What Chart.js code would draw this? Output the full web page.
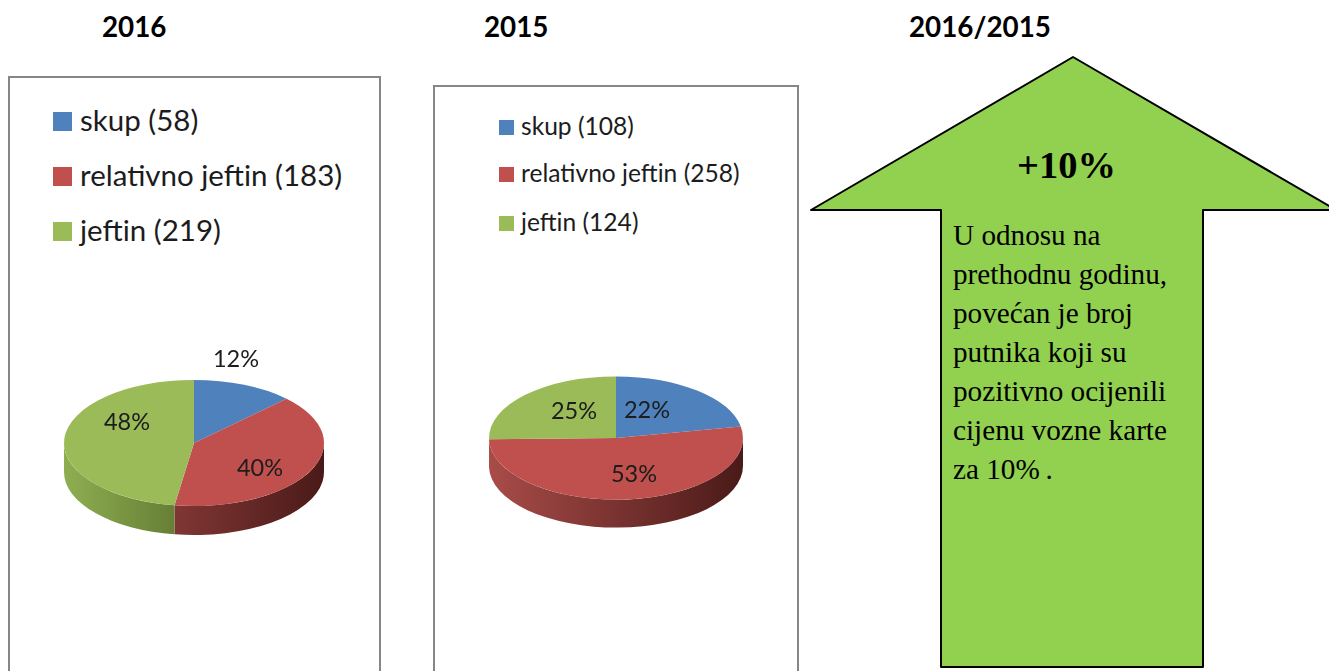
<!DOCTYPE html>
<html>
<head>
<meta charset="utf-8">
<script src="https://cdn.jsdelivr.net/npm/chart.js@4"></script>
<style>
html, body { margin: 0; padding: 0; background: #fff; overflow: hidden; }
#page { position: relative; width: 1329px; height: 671px; overflow: hidden; }
#page > * { position: absolute; }
.title { font: bold 27.8px Lato, sans-serif; color: #000; white-space: nowrap; top: 10px; }
.panel { border: 2px solid #868686; border-bottom: none; box-sizing: border-box; background: #fff; }
.lgItem { position: absolute; font-family: Lato, sans-serif; color: #1c1c1c; white-space: nowrap; }
.lgBox { position: absolute; }
#arrow { left: 0; top: 0; }
#plus { font: bold 38.5px "Liberation Serif", serif; left: 1017px; top: 143px; color: #000; }
#note { font: 29.2px/39px "Liberation Serif", serif; left: 953px; top: 216px; color: #000; white-space: pre; }
</style>
</head>
<body>
<div id="page">
  <div class="title" style="left:102px">2016</div>
  <div class="title" style="left:484px">2015</div>
  <div class="title" style="left:909px">2016/2015</div>
  <div class="panel" style="left:8px;top:76px;width:373px;height:600px"></div>
  <div class="panel" style="left:433px;top:85px;width:366px;height:600px"></div>
  <svg id="arrow" width="1329" height="671">
    <polygon points="1073,57 1336,210 1203,210 1203,667 941,667 941,210 811,210" fill="#92D050" stroke="#000" stroke-width="2" stroke-linejoin="round"></polygon>
  </svg>
  <div id="plus">+10%</div>
  <div id="note"></div>
  <canvas id="pie2016" width="320" height="320" style="left:34px;top:283px"></canvas>
  <canvas id="pie2015" width="320" height="320" style="left:456px;top:278px"></canvas>
</div>
<script>
const categories = ['skup', 'relativno jeftin', 'jeftin'];
const counts2016 = [58, 183, 219];
const counts2015 = [108, 258, 124];
const percent2016 = [12, 40, 48];
const percent2015 = [22, 53, 25];
const noteLines = ['U odnosu na', 'prethodnu godinu,', 'povećan je broj', 'putnika koji su', 'pozitivno ocijenili', 'cijenu vozne karte', 'za 10%\u2009.'];

const sliceColors = ['#4F81BD', '#C0504D', '#9BBB59'];
const rimColors = [['#4F81BD', '#2a4a70'], ['#a84c49', '#4a1a18'], ['#8fae51', '#2f4010']];

document.getElementById('note').textContent = noteLines.join('\n');

// squashes the flat pie into an ellipse and puts the rim under it
const tiltPlugin = {
  id: 'tilt',
  beforeDatasetsDraw(chart, args, opts) {
    const ctx = chart.ctx;
    const arcs = chart.getDatasetMeta(0).data;
    arcs.forEach((arc, i) => {
      const a0 = Math.max(arc.startAngle, 0);
      const a1 = Math.min(arc.endAngle, Math.PI);
      if (a1 <= a0) return;
      const rx = arc.outerRadius, ry = rx * opts.squash;
      const grad = ctx.createLinearGradient(arc.x - rx, 0, arc.x + rx, 0);
      grad.addColorStop(0, rimColors[i][0]);
      grad.addColorStop(1, rimColors[i][1]);
      ctx.beginPath();
      ctx.ellipse(arc.x, arc.y, rx, ry, 0, a0, a1);
      ctx.ellipse(arc.x, arc.y + opts.depth, rx, ry, 0, a1, a0, true);
      ctx.closePath();
      ctx.fillStyle = grad;
      ctx.fill();
    });
    const c = arcs[0];
    ctx.save();
    ctx.translate(c.x, c.y);
    ctx.scale(1, opts.squash);
    ctx.translate(-c.x, -c.y);
  },
  afterDatasetsDraw(chart, args, opts) {
    const ctx = chart.ctx;
    ctx.restore();
    const c = chart.getDatasetMeta(0).data[0];
    ctx.font = opts.labelFont;
    ctx.fillStyle = '#1c1c1c';
    ctx.textAlign = 'center';
    ctx.textBaseline = 'middle';
    opts.percents.forEach((p, i) => {
      ctx.fillText(p + '%', c.x + opts.labelAt[i][0], c.y + opts.labelAt[i][1]);
    });
  }
};

function drawPie(id, counts, percents, radius, depth, labelAt, labelFont) {
  return new Chart(document.getElementById(id).getContext('2d'), {
    type: 'pie',
    data: {
      labels: categories,
      datasets: [{
        data: counts,
        backgroundColor: sliceColors,
        borderWidth: 0,
        radius: radius
      }]
    },
    options: {
      responsive: false,
      animation: false,
      plugins: {
        legend: { display: false },
        tooltip: { enabled: false },
        tilt: { squash: 0.485, depth: depth, percents: percents, labelAt: labelAt, labelFont: labelFont }
      }
    },
    plugins: [tiltPlugin]
  });
}

function drawLegend(counts, boxX, textX, rowsY, boxSize, fontSize) {
  const page = document.getElementById('page');
  categories.forEach((name, i) => {
    const box = document.createElement('div');
    box.className = 'lgBox';
    box.style.cssText = `left:${boxX}px;top:${rowsY[i] - boxSize / 2}px;width:${boxSize}px;height:${boxSize}px;background:${sliceColors[i]}`;
    page.appendChild(box);
    const txt = document.createElement('div');
    txt.className = 'lgItem';
    txt.textContent = `${name} (${counts[i]})`;
    txt.style.cssText = `left:${textX}px;top:${rowsY[i] - 21}px;line-height:40px;font-size:${fontSize}px`;
    page.appendChild(txt);
  });
}

drawPie('pie2016', counts2016, percent2016, 130, 29, [[42, -84], [66, 25], [-67, -21]], '23.5px Lato, sans-serif');
drawPie('pie2015', counts2015, percent2015, 127, 28, [[31, -28], [18, 36], [-42, -27]], '23.5px Lato, sans-serif');
drawLegend(counts2016, 53, 80, [121, 176, 231], 19, 29.5);
drawLegend(counts2015, 499, 521, [127, 174, 223], 15, 24.6);
</script>
</body>
</html>
